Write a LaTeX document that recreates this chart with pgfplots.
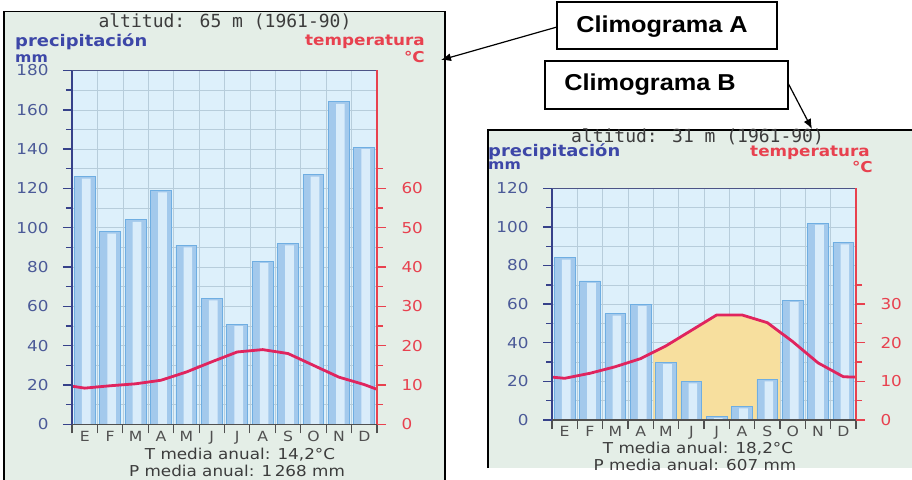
\documentclass[border=0pt]{standalone}
\usepackage{pgfplots}
\pgfplotsset{compat=1.18}
\usepackage{pgfplotstable}
\usepackage{fontspec}
\setmainfont{DejaVu Sans}
\newfontfamily\tickfont[FakeStretch=1.12]{DejaVu Sans}
\newfontfamily\titlefont{DejaVu Sans Mono}
\newfontfamily\boxfont[FakeStretch=1.1]{Liberation Sans}
\usetikzlibrary{arrows.meta}

\definecolor{outerbg}{HTML}{E4EEE7}
\definecolor{plotbg}{HTML}{DDF0FB}
\definecolor{gridc}{HTML}{B7CDDB}
\definecolor{baredge}{HTML}{6FAEE2}
\definecolor{barfill}{HTML}{A3C9EC}
\definecolor{barlight}{HTML}{D9ECFA}
\definecolor{leftc}{HTML}{36418A}
\definecolor{lblblue}{HTML}{4B5A98}
\definecolor{precipc}{HTML}{3D47A8}
\definecolor{redc}{HTML}{E8414F}
\definecolor{tempc}{HTML}{E0245E}
\definecolor{aridc}{HTML}{F7DF9E}
\definecolor{titlec}{HTML}{3C3C3C}
\definecolor{monthc}{HTML}{505050}

% precipitacion (mm) y temperatura (C), climograma A
\pgfplotstableread{
m P
1 126
2 98
3 104
4 119
5 91
6 64
7 51
8 83
9 92
10 127
11 164
12 141
}\precA
\pgfplotstableread{
x T
0.5 9.7
1 9.2
2 9.8
3 10.3
4 11.2
5 13.3
6 15.9
7 18.4
8 19.0
9 18.0
10 15.0
11 12.0
12 10.1
12.5 8.9
}\tempA

% climograma B
\pgfplotstableread{
m P
1 84
2 72
3 55
4 60
5 30
6 20
7 2
8 7
9 21
10 62
11 102
12 92
}\precB
\pgfplotstableread{
x T
0.5 11.1
1 10.8
2 12.1
3 13.8
4 15.9
5 19.2
6 23.2
7 27.2
8 27.2
9 25.2
10 20.3
11 14.8
12 11.2
12.5 11.1
}\tempB
\pgfplotstableread{
x T
4.5 0
4.5 17.6
5 19.2
6 23.2
7 27.2
8 27.2
9 25.2
9.5 22.8
9.5 0
}\aridB

\pgfplotsset{
  clima/.style={
    scale only axis,
    xmin=0.5, xmax=12.5, ymin=0,
    /pgf/number format/assume math mode=true,
    axis background/.style={fill=plotbg},
    axis line style={draw=none},
    xtick={0.5,1.5,...,12.5}, xticklabels={},
    extra x ticks={1,...,12},
    extra x tick labels={E,F,M,A,M,J,J,A,S,O,N,D},
    extra x tick style={major tick length=0pt, xmajorgrids=false},
    xmajorgrids=true, ymajorgrids=true, yminorgrids=true,
    grid style={gridc, line width=0.6pt},
    minor grid style={gridc, line width=0.6pt},
    tick align=outside, xtick pos=bottom, ytick pos=left,
    major tick length=9pt, minor tick length=6pt,
    x tick style={monthc, line width=1.1pt},
    y tick style={leftc, line width=1.4pt},
    xticklabel style={font=\tickfont\fontsize{14}{16}\selectfont, text=monthc, yshift=-3pt},
    yticklabel style={font=\tickfont\fontsize{15}{18}\selectfont, text=lblblue, xshift=-11pt},
    after end axis/.code={
      \draw[leftc, line width=2pt] (rel axis cs:0,0) -- (rel axis cs:0,1);
      \draw[leftc!70!gray, line width=1pt] (rel axis cs:0,1) -- (rel axis cs:1,1);
      \draw[redc, line width=1.5pt] (rel axis cs:1,0) -- (rel axis cs:1,1);
      \draw[monthc, line width=1.2pt] (rel axis cs:0,0) -- (rel axis cs:1,0);
    },
  },
  derecha/.style={
    scale only axis,
    xmin=0.5, xmax=12.5, ymin=0,
    /pgf/number format/assume math mode=true,
    axis x line=none, axis y line*=right,
    axis line style={draw=none},
    tick align=outside, ytick pos=right,
    major tick length=9pt, minor tick length=6pt,
    y tick style={redc, line width=1.4pt},
    yticklabel style={font=\tickfont\fontsize{15}{18}\selectfont, text=redc, xshift=12pt},
  },
  barras/.style={ybar, bar width=0.82, draw=baredge, line width=0.9pt, fill=barfill},
  brillo/.style={ybar, bar width=0.34, bar shift=0.06, draw=none, fill=barlight},
  linea/.style={tempc, line width=2.8pt, no markers, line join=round},
}

\begin{document}
\begin{tikzpicture}[x=1pt,y=1pt]
\useasboundingbox (0,0) rectangle (912,479);

% marcos
\fill[outerbg] (4,-5) rectangle (445,467.3);
\draw[black, line width=1.3pt] (4,-5) -- (4,467.3) -- (445,467.3) -- (445,-5);
\fill[outerbg] (488,11) rectangle (920,349);
\draw[black, line width=1.3pt] (488,11) -- (488,349) -- (920,349);

% climograma A
\begin{axis}[clima, at={(72pt,54.7pt)}, anchor=south west,
  width=305pt, height=353.8pt, ymax=180,
  ytick={0,20,...,180}, minor ytick={10,30,...,170}]
\addplot[barras] table[x=m, y=P] {\precA};
\addplot[brillo] table[x=m, y expr=\thisrow{P}-1] {\precA};
\addplot[linea] table[x=x, y expr=2*\thisrow{T}] {\tempA};
\end{axis}
\begin{axis}[derecha, at={(72pt,54.7pt)}, anchor=south west,
  width=305pt, height=353.8pt, ymax=90,
  ytick={0,10,...,60}, minor ytick={5,15,...,65}]
\end{axis}

\node[font=\titlefont\fontsize{18}{20}\selectfont, text=titlec] at (225,457.3) {altitud: 65 m (1961-90)};
\node[anchor=base west, inner sep=0, font=\tickfont\bfseries\fontsize{16}{18}\selectfont, text=precipc] at (15,432.3) {precipitación};
\node[anchor=base west, inner sep=0, font=\tickfont\bfseries\fontsize{14}{16}\selectfont, text=precipc] at (15,416.3) {mm};
\node[anchor=base east, inner sep=0, font=\tickfont\bfseries\fontsize{15}{18}\selectfont, text=redc] at (425,433) {temperatura};
\node[anchor=base east, inner sep=0, font=\tickfont\bfseries\fontsize{15}{18}\selectfont, text=redc] at (425,416.3) {°C};
\node[font=\tickfont\fontsize{15}{18}\selectfont, text=titlec] at (240,24.5) {T media anual: 14,2°C};
\node[font=\tickfont\fontsize{15}{18}\selectfont, text=titlec] at (237,8) {P media anual: 1\,268 mm};

% climograma B
\begin{axis}[clima, at={(552pt,59pt)}, anchor=south west,
  width=304pt, height=231.7pt, ymax=120,
  ytick={0,20,...,120}, minor ytick={10,30,...,110}]
\addplot[fill=aridc, draw=none] table[x=x, y expr=2*\thisrow{T}] {\aridB};
\addplot[barras] table[x=m, y=P] {\precB};
\addplot[brillo] table[x=m, y expr=\thisrow{P}-1] {\precB};
\addplot[linea] table[x=x, y expr=2*\thisrow{T}] {\tempB};
\end{axis}
\begin{axis}[derecha, at={(552pt,59pt)}, anchor=south west,
  width=304pt, height=231.7pt, ymax=60,
  ytick={0,10,...,30}, minor ytick={5,15,...,35}]
\end{axis}

\node[font=\titlefont\fontsize{18}{20}\selectfont, text=titlec] at (697.5,342) {altitud: 31 m (1961-90)};
\node[anchor=base west, inner sep=0, font=\tickfont\bfseries\fontsize{16}{18}\selectfont, text=precipc] at (488,322) {precipitación};
\node[anchor=base west, inner sep=0, font=\tickfont\bfseries\fontsize{14}{16}\selectfont, text=precipc] at (488,309) {mm};
\node[anchor=base east, inner sep=0, font=\tickfont\bfseries\fontsize{15}{18}\selectfont, text=redc] at (870,322.3) {temperatura};
\node[anchor=base east, inner sep=0, font=\tickfont\bfseries\fontsize{15}{18}\selectfont, text=redc] at (873,306) {°C};
\node[font=\tickfont\fontsize{15}{18}\selectfont, text=titlec] at (698,30.7) {T media anual: 18,2°C};
\node[font=\tickfont\fontsize{15}{18}\selectfont, text=titlec] at (695,14) {P media anual: 607 mm};

% recuadros y flechas
\draw[black, line width=1.5pt, fill=white] (557,430) rectangle (777,477);
\node[font=\boxfont\bfseries\fontsize{23}{26}\selectfont] at (662,452) {Climograma A};
\draw[black, line width=1.5pt, fill=white] (545,370) rectangle (788,418);
\node[font=\boxfont\bfseries\fontsize{23}{26}\selectfont] at (650,394) {Climograma B};
\draw[black, line width=1.2pt, -{Latex[length=10pt,width=8pt]}] (557,452) -- (441,419);
\draw[black, line width=1.2pt, -{Latex[length=10pt,width=8pt]}] (788,396) -- (812,350);
\end{tikzpicture}
\end{document}
